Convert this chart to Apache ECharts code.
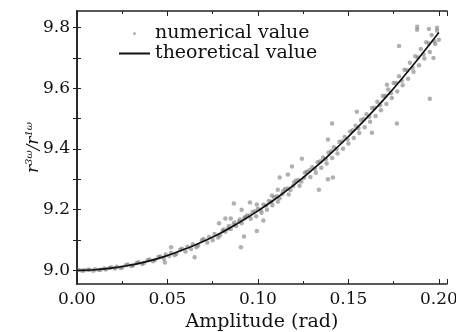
<!DOCTYPE html>
<html>
<head>
<meta charset="utf-8">
<script src="https://cdn.jsdelivr.net/npm/echarts@6/dist/echarts.min.js"></script>
<style>
  html, body { margin: 0; padding: 0; background: #fff; }
  #main { width: 456px; height: 332px; }
</style>
</head>
<body>
<div id="main"></div>
<script>
// 理论曲线
var theoryAmp = [0, 0.01, 0.02, 0.03, 0.04, 0.05, 0.06, 0.07, 0.08, 0.09, 0.10,
  0.11, 0.12, 0.13, 0.14, 0.15, 0.16, 0.17, 0.18, 0.19, 0.20];
var theoryRatio = [9.000, 9.002, 9.008, 9.018, 9.031, 9.049, 9.071, 9.096, 9.125, 9.159, 9.196,
  9.237, 9.282, 9.331, 9.384, 9.441, 9.502, 9.566, 9.635, 9.708, 9.784];

// 数值点 [amplitude, ratio]
var numericalPoints = [
  [0.001, 9.001], [0.003, 8.999], [0.004, 9.000], [0.006, 9.002], [0.007, 9.002], [0.009, 8.999],
  [0.010, 9.004], [0.012, 9.001], [0.013, 9.002], [0.015, 9.006], [0.016, 9.003], [0.018, 9.008],
  [0.019, 9.010], [0.021, 9.006], [0.022, 9.012], [0.024, 9.008], [0.025, 9.010], [0.027, 9.017],
  [0.028, 9.019], [0.030, 9.014], [0.031, 9.016], [0.033, 9.024], [0.034, 9.027], [0.036, 9.021],
  [0.037, 9.024], [0.039, 9.033], [0.040, 9.036], [0.042, 9.030], [0.043, 9.034], [0.045, 9.044],
  [0.046, 9.046], [0.048, 9.038], [0.049, 9.052], [0.051, 9.047], [0.052, 9.058], [0.054, 9.050],
  [0.055, 9.055], [0.057, 9.068], [0.058, 9.071], [0.060, 9.062], [0.061, 9.078], [0.063, 9.070],
  [0.064, 9.086], [0.066, 9.076], [0.067, 9.082], [0.069, 9.099], [0.070, 9.103], [0.072, 9.092],
  [0.073, 9.110], [0.075, 9.099], [0.076, 9.120], [0.078, 9.108], [0.079, 9.116], [0.081, 9.135],
  [0.082, 9.127], [0.084, 9.146], [0.085, 9.136], [0.087, 9.158], [0.088, 9.146], [0.090, 9.168],
  [0.091, 9.155], [0.093, 9.176], [0.094, 9.181], [0.096, 9.170], [0.097, 9.192], [0.099, 9.178],
  [0.100, 9.203], [0.102, 9.190], [0.103, 9.216], [0.105, 9.200], [0.106, 9.229], [0.108, 9.215],
  [0.109, 9.241], [0.111, 9.226], [0.112, 9.238], [0.114, 9.262], [0.115, 9.268], [0.117, 9.250],
  [0.118, 9.265], [0.120, 9.290], [0.121, 9.296], [0.123, 9.279], [0.124, 9.293], [0.126, 9.322],
  [0.127, 9.325], [0.129, 9.308], [0.130, 9.340], [0.132, 9.322], [0.133, 9.356], [0.135, 9.338],
  [0.136, 9.372], [0.138, 9.352], [0.139, 9.388], [0.141, 9.370], [0.142, 9.406], [0.144, 9.385],
  [0.145, 9.423], [0.147, 9.401], [0.148, 9.440], [0.150, 9.418], [0.151, 9.458], [0.153, 9.436],
  [0.154, 9.477], [0.156, 9.453], [0.157, 9.496], [0.159, 9.472], [0.160, 9.515], [0.162, 9.490],
  [0.163, 9.535], [0.165, 9.509], [0.166, 9.556], [0.168, 9.528], [0.169, 9.575], [0.171, 9.548],
  [0.172, 9.596], [0.174, 9.568], [0.175, 9.618], [0.177, 9.590], [0.178, 9.640], [0.180, 9.610],
  [0.181, 9.661], [0.183, 9.632], [0.184, 9.684], [0.186, 9.655], [0.187, 9.706], [0.189, 9.676],
  [0.190, 9.730], [0.192, 9.698], [0.193, 9.752], [0.195, 9.720], [0.196, 9.776], [0.198, 9.746],
  [0.199, 9.790], [0.200, 9.760],
  [0.0805, 9.130], [0.0835, 9.138], [0.0865, 9.150], [0.0895, 9.160], [0.0925, 9.172], [0.0955, 9.181],
  [0.0985, 9.195], [0.1015, 9.200], [0.1045, 9.214], [0.1075, 9.226], [0.1105, 9.244], [0.1135, 9.252],
  [0.1165, 9.270], [0.1195, 9.278], [0.1225, 9.298], [0.1255, 9.305], [0.1285, 9.330], [0.1315, 9.335],
  [0.1345, 9.360], [0.1375, 9.366], [0.1405, 9.393], [0.1435, 9.400], [0.1465, 9.426], [0.1495, 9.432],
  [0.1525, 9.462], [0.1555, 9.468], [0.1585, 9.500], [0.1615, 9.506], [0.1645, 9.536], [0.1675, 9.544],
  [0.1705, 9.576], [0.1735, 9.584], [0.1765, 9.618], [0.1795, 9.625], [0.1825, 9.660], [0.1855, 9.668],
  [0.1885, 9.702], [0.1915, 9.712], [0.1945, 9.748], [0.1975, 9.755],
  // 离群点
  [0.0486, 9.026], [0.052, 9.076], [0.065, 9.043], [0.0785, 9.155], [0.082, 9.171], [0.085, 9.171],
  [0.0867, 9.220], [0.0906, 9.076], [0.091, 9.200], [0.0923, 9.112], [0.0956, 9.224], [0.0994, 9.130],
  [0.0994, 9.217], [0.103, 9.164], [0.1077, 9.247], [0.111, 9.266], [0.112, 9.306], [0.1166, 9.316],
  [0.1188, 9.342], [0.1243, 9.368], [0.1337, 9.266], [0.1387, 9.300], [0.1414, 9.306], [0.1387, 9.431],
  [0.141, 9.484], [0.1547, 9.523], [0.163, 9.454], [0.1713, 9.612], [0.1768, 9.484], [0.178, 9.740],
  [0.188, 9.803], [0.188, 9.793], [0.1945, 9.796], [0.195, 9.566], [0.199, 9.800], [0.197, 9.700]
];

var yLabelValues = [9.0, 9.2, 9.4, 9.6, 9.8];
var yTickValues = [9.0, 9.1, 9.2, 9.3, 9.4, 9.5, 9.6, 9.7, 9.8];

var font = "DejaVu Serif";
var axisColor = "#222";
var textColor = "#111";

var myChart = echarts.init(document.getElementById("main"));

var theoryData = theoryAmp.map(function (a, i) { return [a, theoryRatio[i]]; });

var xBase = {
  type: "value",
  min: 0,
  max: 0.2045,
  interval: 0.05,
  splitLine: { show: false },
  axisLine: { show: true, lineStyle: { color: axisColor, width: 1.6 } },
  axisTick: { show: true, inside: true, length: 5, lineStyle: { color: axisColor } },
  minorTick: { show: true, splitNumber: 2, length: 3, lineStyle: { color: axisColor } },
  minorSplitLine: { show: false }
};
var yBase = {
  type: "value",
  min: 8.955,
  max: 9.855,
  splitLine: { show: false },
  axisLine: { show: true, lineStyle: { color: axisColor, width: 1.6 } },
  axisTick: { show: true, inside: true, length: 4, customValues: yTickValues, lineStyle: { color: axisColor } }
};

myChart.setOption({
  backgroundColor: "#fff",
  animation: false,
  grid: { left: 77, right: 9, top: 11, bottom: 48, outerBoundsMode: "none" },
  legend: {
    orient: "vertical",
    left: 114,
    top: 19,
    itemWidth: 31,
    itemHeight: 3,
    itemGap: 1,
    textStyle: { fontFamily: font, fontSize: 19, color: textColor },
    data: [
      { name: "numerical value", icon: "circle" },
      { name: "theoretical value", icon: "path://M0,0H31V2H0Z" }
    ]
  },
  xAxis: [
    Object.assign({}, xBase, {
      position: "bottom",
      name: "Amplitude (rad)",
      nameLocation: "middle",
      nameGap: 28,
      nameTextStyle: { fontFamily: font, fontSize: 19, color: textColor },
      axisLabel: {
        margin: 7,
        fontFamily: font,
        fontSize: 17,
        color: textColor,
        showMaxLabel: false,
        formatter: function (v) { return v.toFixed(2); }
      }
    }),
    Object.assign({}, xBase, { position: "top", axisLabel: { show: false } })
  ],
  yAxis: [
    Object.assign({}, yBase, {
      position: "left",
      name: "{i|r}{s|3ω}{i|/r}{s|1ω}",
      nameLocation: "middle",
      nameRotate: 90,
      nameGap: 34,
      nameMoveOverlap: false,
      nameTextStyle: {
        color: textColor,
        rich: {
          i: { fontFamily: font, fontStyle: "italic", fontSize: 17, lineHeight: 19, color: textColor },
          s: { fontFamily: font, fontStyle: "italic", fontSize: 10, lineHeight: 19, verticalAlign: "top", color: textColor }
        }
      },
      axisLabel: {
        margin: 7,
        fontFamily: font,
        fontSize: 17,
        color: textColor,
        customValues: yLabelValues,
        formatter: function (v) { return v.toFixed(1); }
      }
    }),
    Object.assign({}, yBase, { position: "right", axisLabel: { show: false } })
  ],
  series: [
    {
      name: "numerical value",
      type: "scatter",
      symbolSize: 4.5,
      itemStyle: { color: "rgba(115,115,115,0.7)" },
      data: numericalPoints,
      z: 2
    },
    {
      name: "theoretical value",
      type: "line",
      smooth: true,
      showSymbol: false,
      symbol: "none",
      lineStyle: { color: "#111", width: 1.7 },
      itemStyle: { color: "#111" },
      data: theoryData,
      z: 3
    }
  ]
});
</script>
</body>
</html>
